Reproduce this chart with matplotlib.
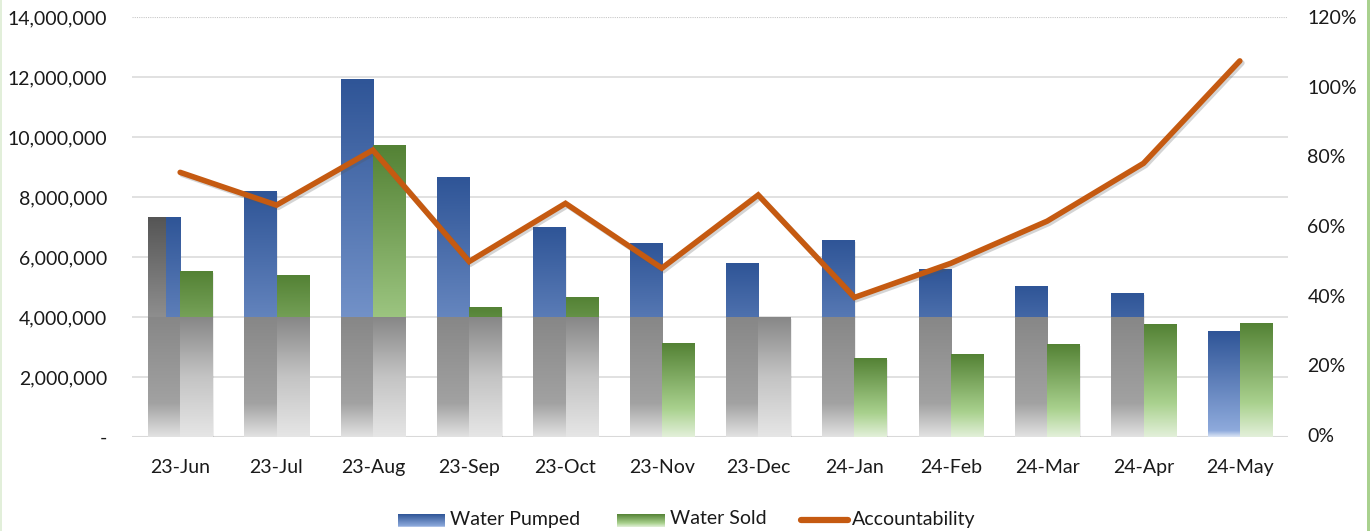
import numpy as np
import matplotlib.pyplot as plt
from matplotlib.colors import LinearSegmentedColormap
from matplotlib.ticker import FuncFormatter
from matplotlib import patheffects as pe
from matplotlib.patches import Rectangle

plt.rcParams['font.family'] = ['Lato', 'DejaVu Sans']

months = ['23-Jun', '23-Jul', '23-Aug', '23-Sep', '23-Oct', '23-Nov',
          '23-Dec', '24-Jan', '24-Feb', '24-Mar', '24-Apr', '24-May']
water_pumped = [7310000, 8180000, 11920000, 8660000, 6990000, 6460000,
                5790000, 6560000, 5590000, 5010000, 4790000, 3510000]
water_sold = [5530000, 5390000, 9730000, 4330000, 4640000, 3110000,
              3980000, 2620000, 2760000, 3080000, 3760000, 3770000]
accountability = [0.754, 0.660, 0.818, 0.498, 0.665, 0.479,
                  0.689, 0.395, 0.493, 0.614, 0.780, 1.074]
left_ticks = [0, 2000000, 4000000, 6000000, 8000000, 10000000, 12000000, 14000000]
right_ticks = [0, 0.2, 0.4, 0.6, 0.8, 1.0, 1.2]

gray_level = 4000000

blue_cm = LinearSegmentedColormap.from_list('b', [(0, '#dbe5f5'), (0.06, '#8eaadc'), (1, '#2f5597')])
green_cm = LinearSegmentedColormap.from_list('g', [(0, '#e3f0da'), (0.3, '#a9d18e'), (1, '#548235')])
gray_p_cm = LinearSegmentedColormap.from_list('gp', [(0, '#e2e2e2'), (0.28, '#a2a2a2'), (1, '#878787')])
gray_s_cm = LinearSegmentedColormap.from_list('gs', [(0, '#e6e6e6'), (0.5, '#c4c4c4'), (1, '#878787')])
dark_cm = LinearSegmentedColormap.from_list('d', [(0, '#8e8e8e'), (1, '#555555')])

grad = np.linspace(0, 1, 256).reshape(-1, 1)


def grad_rect(ax, x0, x1, y0, y1, cmap, v0=0.0, v1=1.0, z=2):
    img = np.linspace(v0, v1, 256).reshape(-1, 1)
    ax.imshow(img, extent=(x0, x1, y0, y1), origin='lower', aspect='auto',
              cmap=cmap, vmin=0, vmax=1, zorder=z, interpolation='bilinear')


def draw_bar(ax, xc, w, h, cmap, gray_cm):
    x0, x1 = xc - w / 2, xc + w / 2
    # soft shadow
    ax.add_patch(Rectangle((x0 + 0.012, -60000), w, h, color='#000000', alpha=0.07, zorder=1.5, lw=0))
    if h >= gray_level * 0.99:
        g = min(h, gray_level)
        grad_rect(ax, x0, x1, 0, g, gray_cm)
        if h > gray_level:
            grad_rect(ax, x0, x1, gray_level, h, cmap, gray_level / h, 1.0)
    else:
        grad_rect(ax, x0, x1, 0, h, cmap)


fig = plt.figure(figsize=(13.72, 5.31), dpi=100)
ax = fig.add_axes([132 / 1372, 1 - 437 / 531, 1156 / 1372, 420 / 531])
x = np.arange(len(months))
w = 0.335

for i in x:
    draw_bar(ax, i - w / 2, w, water_pumped[i], blue_cm, gray_p_cm)
    draw_bar(ax, i + w / 2, w, water_sold[i], green_cm, gray_s_cm)

# odd dark strip on first pumped bar
grad_rect(ax, 0 - w, 0 - w + w * 0.53, gray_level, water_pumped[0], dark_cm, z=2.1)
grad_rect(ax, 0 - w, 0 - w + w * 0.53, 0, gray_level, gray_p_cm, z=2.1)

ax.set_xlim(-0.5, len(months) - 0.5)
ax.set_ylim(0, 14000000)
ax.set_yticks(left_ticks)
ax.yaxis.set_major_formatter(FuncFormatter(lambda v, p: '-' if v == 0 else f'{int(v):,}'))
ax.set_xticks(x)
ax.set_xticklabels(months)
for t in left_ticks[1:-1]:
    ax.axhline(t, color='#dedede', lw=1.3, zorder=0)
ax.axhline(14000000, color='#c8c8c8', lw=0.8, ls=(0, (1, 1)), zorder=0)
ax.axhline(0, color='#d9d9d9', lw=2.2, zorder=1)
for s in ax.spines.values():
    s.set_visible(False)
ax.tick_params(length=0, labelsize=14, colors='#1a1a1a')
ax.tick_params(axis='y', pad=18)
ax.tick_params(axis='x', pad=16)

ax2 = ax.twinx()
ax2.plot(x, accountability, color='#c55a11', lw=4, solid_capstyle='round', solid_joinstyle='miter', zorder=5,
         path_effects=[pe.SimpleLineShadow(offset=(1.5, -1.5), alpha=0.25, shadow_color='#555555'), pe.Normal()])
ax2.set_ylim(-0.0057, 1.2)
ax2.set_yticks(right_ticks)
ax2.yaxis.set_major_formatter(FuncFormatter(lambda v, p: f'{v * 100:.0f}%'))
for s in ax2.spines.values():
    s.set_visible(False)
ax2.tick_params(length=0, labelsize=14, colors='#1a1a1a', pad=14)

# legend
def swatch(x0, x1, cmap):
    la = fig.add_axes([x0 / 1372, 1 - 527 / 531, (x1 - x0) / 1372, 13 / 531])
    la.imshow(grad, origin='lower', aspect='auto', cmap=cmap, extent=(0, 1, 0, 1))
    la.axis('off')

swatch(398, 445, blue_cm)
fig.text(450 / 1372, 1 - 519 / 531, 'Water Pumped', fontsize=14, va='center', color='#1a1a1a')
swatch(617, 665, green_cm)
fig.text(670 / 1372, 1 - 519 / 531, 'Water Sold', fontsize=14, va='center', color='#1a1a1a')
fig.lines.append(plt.Line2D([801 / 1372, 848 / 1372], [1 - 520 / 531] * 2, transform=fig.transFigure,
                            color='#c55a11', lw=4.5, solid_capstyle='round'))
fig.text(852 / 1372, 1 - 519 / 531, 'Accountability', fontsize=14, va='center', color='#1a1a1a')

# green frame edges
fig.patches.append(Rectangle((1367 / 1372, 0), 3 / 1372, 1, transform=fig.transFigure, color='#a9d18e', lw=0))
fig.patches.append(Rectangle((0, 0), 2 / 1372, 1, transform=fig.transFigure, color='#e2efda', lw=0))

fig.savefig('out.png', dpi=100)
